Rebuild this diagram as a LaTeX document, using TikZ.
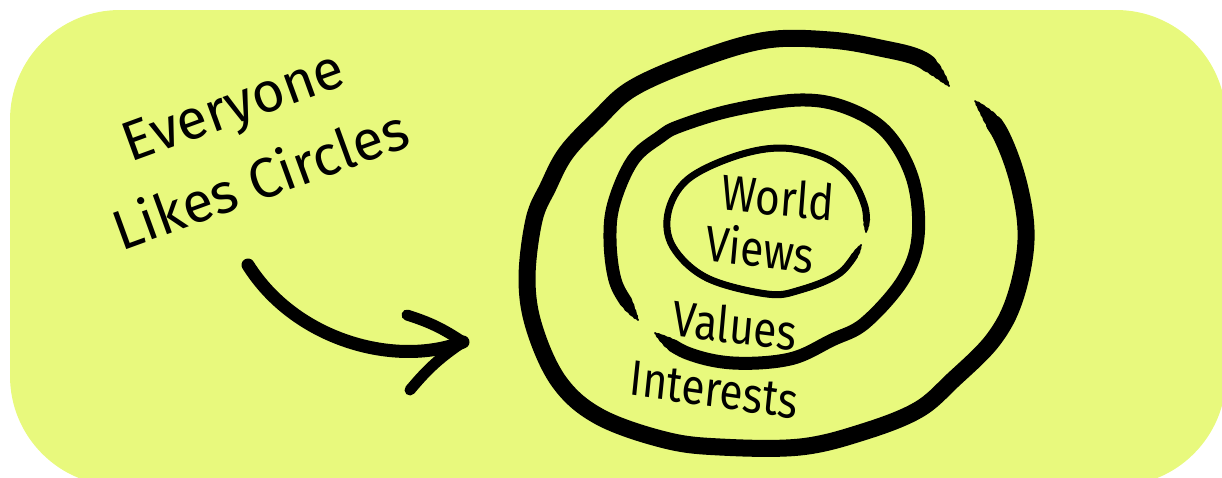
\documentclass[tikz,border=0pt]{standalone}
\usepackage{fontspec}
\setmainfont{Fira Sans}
\usepackage{xcolor}
\usetikzlibrary{decorations.markings}
\definecolor{notecolor}{HTML}{E8F97D}

\tikzset{
    pen/.style = {draw = black, line cap = round, line join = round},
    ringlabel/.style = {font = \fontsize{50pt}{60pt}\selectfont, xscale = 0.85, inner sep = 0pt},
}

% #1 = width/trim pairs, #2 = path; each layer is cut back at both ends so the stroke tapers
\newcommand{\taperedring}[2]{%
    \path [decorate, decoration = {markings, mark = at position 0.5 with {\pgfmathsetmacro\tmplength{\pgfdecoratedpathlength}\global\let\ringlength\tmplength}}] #2;
    \foreach \w/\s in {#1} {
        \pgfmathsetmacro\dashon{\ringlength - 2*\s}
        \pgfmathsetmacro\dashphase{\dashon + 5000 - \s}
        \draw [pen, line width = \w pt, dash pattern = on \dashon pt off 5000pt, dash phase = \dashphase pt] #2;
    }%
}

\begin{document}
\begin{tikzpicture}[x = 1pt, y = -1pt]

        \useasboundingbox (0, 0) rectangle (1222, 477);
        \fill [notecolor, rounded corners = 110pt] (10, 10) rectangle (1226, 486);

        % Title
        \node [rotate = 20, align = center, font = \fontsize{56pt}{80pt}\selectfont] (title) at (247, 143) {Everyone\\Likes Circles};

        % Rings
        \taperedring{2/0, 5/4, 8/9, 11/15, 14/22, 17/30}{plot [smooth, tension = 0.6] coordinates {(975, 101) (1000, 133) (1019, 185) (1026, 240) (1015, 298) (993, 340) (953, 380) (918, 410) (863, 432) (800, 447) (720, 447) (665, 440) (600, 417) (560, 383) (535, 330) (527, 280) (534, 220) (548, 187) (566, 153) (597, 120) (633, 88) (700, 59) (767, 40) (830, 40) (880, 48) (923, 60) (949, 86)}}
        \taperedring{2/0, 5/4, 8/9, 11/15, 13/22}{plot [smooth, tension = 0.6] coordinates {(655, 333) (687, 353) (733, 363) (790, 359) (832, 340) (865, 323) (903, 280) (918, 237) (913, 180) (887, 133) (847, 108) (800, 100) (733, 110) (680, 126) (660, 137) (633, 160) (614, 203) (610, 240) (615, 280) (628, 305) (638, 320)}}
        \taperedring{2/0, 4/3, 6/7, 7/12}{plot [smooth, tension = 0.6] coordinates {(861, 245) (840, 273) (800, 290) (767, 294) (707, 278) (673, 247) (668, 213) (687, 180) (733, 157) (780, 148) (823, 157) (850, 177) (865, 207) (866, 232)}}

        % Ring labels
        \node [ringlabel, rotate = -5] (world) at (778, 197) {World};
        \node [ringlabel, rotate = -6] (views) at (760, 248) {Views};
        \node [ringlabel, rotate = -6] (values) at (735, 325) {Values};
        \node [ringlabel, rotate = -7] (interests) at (714, 390) {Interests};

        % Arrow
        \coordinate (arrowstart) at (248, 265);
        \coordinate (arrowtip) at (463, 342);
        \coordinate (barbup) at (407, 315);
        \coordinate (barbdown) at (410, 390);
        \draw [pen, line width = 13pt] (arrowstart) .. controls (295, 340) and (395, 368) .. (arrowtip);
        \draw [pen, line width = 11pt] (barbup) to [bend left = 8] (arrowtip) to [bend right = 8] (barbdown);

\end{tikzpicture}
\end{document}
